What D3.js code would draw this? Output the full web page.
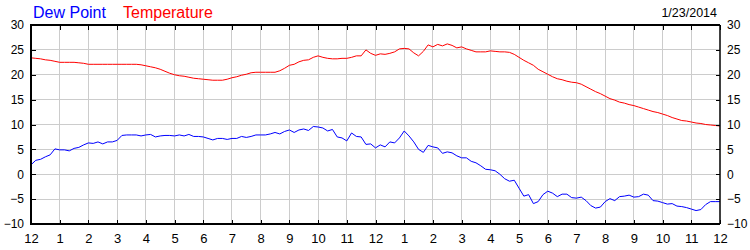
<!DOCTYPE html>
<html>
<head>
<meta charset="utf-8">
<script src="https://cdn.jsdelivr.net/npm/d3@7"></script>
<style>
  body { margin: 0; background: #fff; }
  svg { display: block; font-family: "Liberation Sans", Arial, sans-serif; }
  .grid line { stroke: #cccccc; stroke-width: 1; shape-rendering: crispEdges; }
  .axis text { fill: #000; }
  .axis line { stroke: #000; shape-rendering: crispEdges; }
  .axis path { display: none; }
</style>
</head>
<body>
<div id="chart"></div>
<script>
// hour ticks across the day, labels 12,1..11,12,1..11,12
var hourTicks = d3.range(0, 25);
var hourLabels = ["12","1","2","3","4","5","6","7","8","9","10","11",
                  "12","1","2","3","4","5","6","7","8","9","10","11","12"];
var tempTicks = [-10, -5, 0, 5, 10, 15, 20, 25, 30];

// readings every 10 minutes, 00:00 to 24:00
var temperature = [
  23.4, 23.3, 23.2, 23.0, 22.9, 22.7,
  22.5, 22.5, 22.5, 22.5, 22.4, 22.3,
  22.1, 22.1, 22.1, 22.1, 22.1, 22.1,
  22.1, 22.1, 22.1, 22.1, 22.1, 22.0,
  21.8, 21.6, 21.4, 21.1, 20.7, 20.3,
  20.0, 19.8, 19.7, 19.5, 19.3, 19.2,
  19.1, 19.0, 18.9, 18.9, 18.9, 19.1,
  19.4, 19.6, 19.9, 20.1, 20.4, 20.5,
  20.5, 20.5, 20.5, 20.5, 20.8, 21.3,
  21.9, 22.1, 22.6, 22.9, 23.0, 23.5,
  23.8, 23.5, 23.3, 23.2, 23.2, 23.3,
  23.3, 23.5, 23.8, 23.8, 25.0, 24.3,
  23.9, 24.2, 24.1, 24.3, 24.6, 25.2,
  25.3, 25.2, 24.4, 23.8, 24.7, 26.0,
  25.6, 26.1, 25.8, 26.2, 25.9, 25.4,
  25.6, 25.2, 24.9, 24.6, 24.6, 24.6,
  24.8, 24.7, 24.6, 24.6, 24.5, 24.1,
  23.5, 22.9, 22.4, 21.9, 21.1, 20.6,
  20.1, 19.6, 19.2, 19.0, 18.7, 18.5,
  18.4, 18.1, 17.6, 17.1, 16.6, 16.2,
  15.7, 15.2, 14.9, 14.5, 14.3, 14.0,
  13.8, 13.5, 13.2, 12.9, 12.6, 12.4,
  12.1, 11.8, 11.4, 11.1, 10.8, 10.7,
  10.5, 10.3, 10.2, 10.0, 9.9, 9.8,
  9.7
];

var dewPoint = [
  1.9, 2.8, 3.0, 3.5, 3.9, 5.1,
  4.9, 4.9, 4.7, 5.2, 5.4, 5.9,
  6.3, 6.2, 6.5, 6.1, 6.5, 6.5,
  6.8, 7.8, 7.9, 7.9, 7.9, 7.7,
  7.9, 8.0, 7.5, 7.7, 7.8, 7.8,
  7.7, 7.9, 7.7, 8.0, 7.6, 7.6,
  7.5, 7.2, 6.9, 7.2, 7.2, 7.0,
  7.2, 7.2, 7.6, 7.4, 7.6, 7.9,
  7.9, 7.9, 8.1, 8.4, 8.1, 8.6,
  8.9, 8.4, 8.9, 9.1, 8.8, 9.6,
  9.5, 9.3, 8.7, 9.0, 7.5, 7.3,
  6.7, 8.3, 7.6, 7.5, 6.0, 6.1,
  5.3, 5.9, 5.5, 6.5, 6.3, 7.3,
  8.7, 7.7, 6.5, 5.0, 4.4, 5.8,
  5.5, 5.3, 4.2, 4.5, 4.3, 3.7,
  3.3, 3.3, 2.6, 2.3, 1.7, 1.0,
  0.9, 0.7, 0.0, -0.9, -1.4, -1.2,
  -2.8, -4.4, -4.1, -5.9, -5.5, -4.1,
  -3.4, -3.8, -4.5, -4.0, -4.0, -4.7,
  -4.8, -4.6, -5.3, -6.3, -6.8, -6.6,
  -5.5, -4.9, -5.3, -4.5, -4.4, -4.2,
  -4.6, -4.5, -4.0, -4.2, -5.3, -5.4,
  -5.7, -6.0, -5.9, -6.4, -6.5, -6.7,
  -7.0, -7.3, -7.1, -6.1, -5.5, -5.5,
  -5.5
];

var margin = {top: 25, right: 30, bottom: 26, left: 31},
    width = 750 - margin.left - margin.right,
    height = 250 - margin.top - margin.bottom;

var svg = d3.select("#chart").append("svg")
    .attr("width", 750)
    .attr("height", 250);

var g = svg.append("g")
    .attr("transform", "translate(" + margin.left + "," + margin.top + ")");

var x = d3.scaleLinear().domain([0, 24]).range([0, width]);
var y = d3.scaleLinear().domain([-10, 30]).range([height, 0]);

// grid
g.append("g").attr("class", "grid")
  .selectAll("line").data(hourTicks.slice(1, -1)).enter().append("line")
    .attr("x1", function(d){ return x(d); }).attr("x2", function(d){ return x(d); })
    .attr("y1", 0).attr("y2", height);

g.append("g").attr("class", "grid")
  .selectAll("line").data(tempTicks.slice(1, -1)).enter().append("line")
    .attr("x1", 0).attr("x2", width)
    .attr("y1", function(d){ return y(d); }).attr("y2", function(d){ return y(d); });

// series
var line = d3.line()
    .x(function(d, i){ return x(i / 6); })
    .y(function(d){ return y(d); });

g.append("path").datum(dewPoint)
    .attr("fill", "none").attr("stroke", "#0000ff").attr("stroke-width", 1)
    .attr("d", line);

g.append("path").datum(temperature)
    .attr("fill", "none").attr("stroke", "#ff0000").attr("stroke-width", 1)
    .attr("d", line);

// axes
g.append("g").attr("class", "axis")
    .attr("transform", "translate(0," + height + ")")
    .call(d3.axisBottom(x).tickValues(hourTicks).tickSize(-4).tickSizeOuter(0).tickPadding(10)
      .tickFormat(function(d, i){ return hourLabels[i]; }))
    .selectAll("text").style("font-size", "13px");

g.append("g").attr("class", "axis")
    .call(d3.axisTop(x).tickValues(hourTicks).tickSize(-5).tickSizeOuter(0).tickFormat(""));

g.append("g").attr("class", "axis")
    .call(d3.axisLeft(y).tickValues(tempTicks).tickSize(-5).tickSizeOuter(0).tickPadding(7))
    .selectAll("text").style("font-size", "12px");

g.append("g").attr("class", "axis")
    .attr("transform", "translate(" + width + ",0)")
    .call(d3.axisRight(y).tickValues(tempTicks).tickSize(-4).tickSizeOuter(0).tickPadding(7))
    .selectAll("text").style("font-size", "12px");

// frame
g.append("line").attr("x1", 0).attr("x2", 0).attr("y1", -1).attr("y2", height + 1)
    .attr("stroke", "#000").attr("stroke-width", 2);
g.append("line").attr("x1", 0).attr("x2", width).attr("y1", height).attr("y2", height)
    .attr("stroke", "#000").attr("stroke-width", 2);
g.append("line").attr("x1", 0).attr("x2", width).attr("y1", 0).attr("y2", 0)
    .attr("stroke", "#000").attr("stroke-width", 2);
g.append("line").attr("x1", width).attr("x2", width).attr("y1", 0).attr("y2", height)
    .attr("stroke", "#000").attr("stroke-width", 1.5);

// legend + date
svg.append("text").attr("x", 33).attr("y", 18)
    .style("font-size", "16px").style("fill", "#0000ff").text("Dew Point");
svg.append("text").attr("x", 123).attr("y", 18)
    .style("font-size", "16px").style("fill", "#ff0000").text("Temperature");
svg.append("text").attr("x", 717).attr("y", 17).attr("text-anchor", "end")
    .style("font-size", "12.5px").style("fill", "#000").text("1/23/2014");
</script>
</body>
</html>
